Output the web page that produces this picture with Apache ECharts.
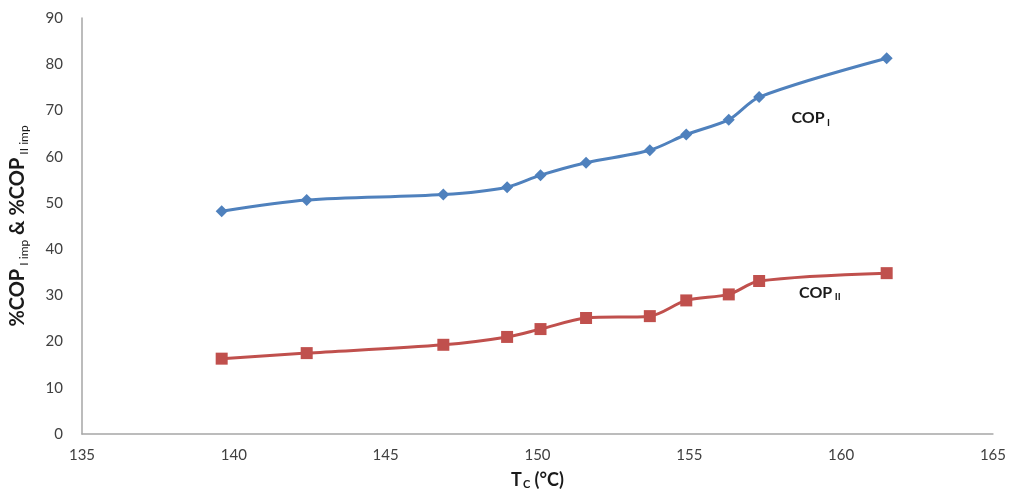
<!DOCTYPE html>
<html>
<head>
<meta charset="utf-8">
<script src="https://cdn.jsdelivr.net/npm/echarts@6/dist/echarts.min.js"></script>
<style>html,body{margin:0;padding:0;background:#fff}#c{width:1009px;height:495px}</style>
</head>
<body>
<div id="c"></div>
<script>
var tempC = [139.6, 142.4, 146.9, 149.0, 150.1, 151.6, 153.7, 154.9, 156.3, 157.3, 161.5];
var copI  = [48.2, 50.6, 51.8, 53.4, 56.0, 58.7, 61.4, 64.8, 68.0, 72.9, 81.3];
var copII = [16.3, 17.5, 19.3, 21.0, 22.7, 25.1, 25.5, 28.9, 30.2, 33.1, 34.8];
var xTicks = [135, 140, 145, 150, 155, 160, 165];
var yTicks = [0, 10, 20, 30, 40, 50, 60, 70, 80, 90];
var labelI = ['COP', 'I'];
var labelII = ['COP', 'II'];
var labelIPos = [159.0, 68.3];
var labelIIPos = [159.3, 30.6];

function pairs(xs, ys){ return xs.map(function(x,i){ return [x, ys[i]]; }); }

var font = 'Lato, "Open Sans", sans-serif';
var chart = echarts.init(document.getElementById('c'));
chart.setOption({
  animation: false,
  grid: {left: 77, right: 16, top: 18, bottom: 54, containLabel: false},
  xAxis: {
    type: 'value', min: xTicks[0], max: xTicks[xTicks.length-1], interval: 5,
    axisLine: {show: true, lineStyle: {color: '#a6a6a6', width: 1.5}},
    axisTick: {show: false}, splitLine: {show: false},
    axisLabel: {color: '#404040', fontSize: 15, fontFamily: font, margin: 14},
    name: '{b|T}{s|C}{b| (°C)}', nameLocation: 'middle', nameGap: 36,
    nameTextStyle: {rich: {
      b: {fontSize: 18, fontWeight: 'bold', color: '#1a1a1a', fontFamily: font},
      s: {fontSize: 11, fontWeight: 'bold', color: '#1a1a1a', fontFamily: font, verticalAlign: 'bottom', padding: [9,0,0,1]}
    }}
  },
  yAxis: {
    type: 'value', min: yTicks[0], max: yTicks[yTicks.length-1], interval: 10,
    axisLine: {show: true, lineStyle: {color: '#a6a6a6', width: 1.5}},
    axisTick: {show: false}, splitLine: {show: false},
    axisLabel: {color: '#404040', fontSize: 15, fontFamily: font, margin: 19},
    name: '{b|%COP}{s| I imp}{b| & %COP}{s| II imp}', nameLocation: 'middle', nameGap: 52,
    nameTextStyle: {rich: {
      b: {fontSize: 20, fontWeight: 'bold', color: '#1a1a1a', fontFamily: font},
      s: {fontSize: 12, color: '#1a1a1a', fontFamily: font, verticalAlign: 'bottom', padding: [12,0,0,0]}
    }}
  },
  series: [
    {
      name: 'COP I', type: 'line', smooth: 0.3, data: pairs(tempC, copI),
      symbol: 'diamond', symbolSize: 12,
      lineStyle: {color: '#4f81bd', width: 3}, itemStyle: {color: '#4f81bd'},
      markPoint: {symbol: 'circle', symbolSize: 0, data: [{coord: labelIPos}],
        label: {show: true, position: 'inside', formatter: '{b|' + labelI[0] + '}{s| ' + labelI[1] + '}',
          rich: {b: {fontSize: 16, fontWeight: 'bold', color: '#1a1a1a', fontFamily: font},
                 s: {fontSize: 10, fontWeight: 'bold', color: '#1a1a1a', fontFamily: font, verticalAlign: 'bottom', padding: [8,0,0,0]}}}}
    },
    {
      name: 'COP II', type: 'line', smooth: 0.3, data: pairs(tempC, copII),
      symbol: 'rect', symbolSize: 12,
      lineStyle: {color: '#c0504d', width: 3}, itemStyle: {color: '#c0504d'},
      markPoint: {symbol: 'circle', symbolSize: 0, data: [{coord: labelIIPos}],
        label: {show: true, position: 'inside', formatter: '{b|' + labelII[0] + '}{s| ' + labelII[1] + '}',
          rich: {b: {fontSize: 16, fontWeight: 'bold', color: '#1a1a1a', fontFamily: font},
                 s: {fontSize: 10, fontWeight: 'bold', color: '#1a1a1a', fontFamily: font, verticalAlign: 'bottom', padding: [8,0,0,0]}}}}
    }
  ]
});
</script>
</body>
</html>
